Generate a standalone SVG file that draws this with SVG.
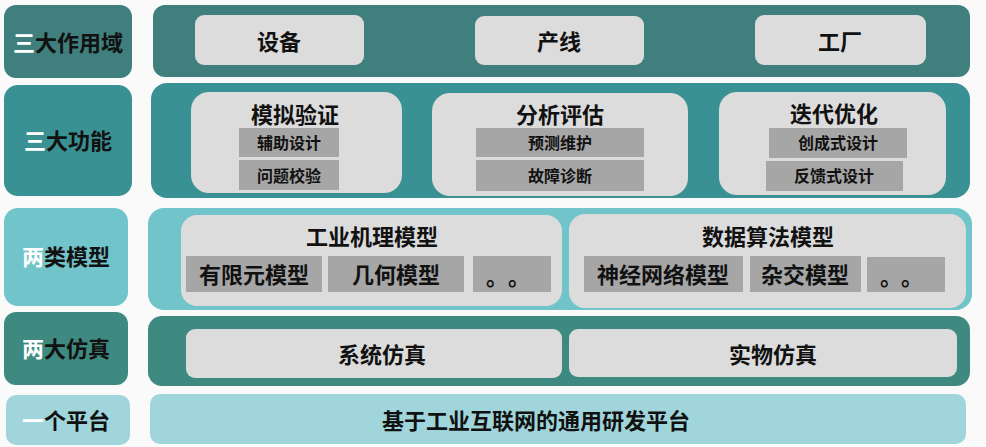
<svg xmlns="http://www.w3.org/2000/svg" width="986" height="447" viewBox="0 0 986 447">
<style>
text{font-family:"Noto Sans CJK SC","Noto Sans",sans-serif;font-weight:bold;text-anchor:middle;dominant-baseline:central;fill:#111}
.w{fill:#fff}
.lab{font-size:22px}
.big{font-size:22px}
.mid{font-size:22px}
.sm{font-size:16px}
.dots{font-size:22px;text-anchor:start}
.in{fill:#dcdcdc}
.sub{fill:#a6a6a6}
.r1{fill:#3f7f7d}
.r2{fill:#3a9193}
.r3{fill:#71c4c9}
.r4{fill:#3e8a81}
.r5{fill:#a0d6db}
</style>
<rect width="986" height="447" fill="#fafafa"/>
<g id="row1">
<rect class="r1" x="4" y="5" width="128" height="73" rx="12"/>
<text class="lab" x="68" y="41"><tspan class="w">三</tspan>大作用域</text>
<rect class="r1" x="153" y="5" width="817" height="72" rx="12"/>
<g id="n-shebei"><rect class="in" x="195" y="15" width="169" height="50" rx="9"/><text class="big" x="279" y="40">设备</text></g>
<g id="n-chanxian"><rect class="in" x="475" y="16" width="169" height="49" rx="9"/><text class="big" x="559" y="40">产线</text></g>
<g id="n-gongchang"><rect class="in" x="755" y="15" width="171" height="50" rx="9"/><text class="big" x="840" y="40">工厂</text></g>
</g>
<g id="row2">
<rect class="r2" x="4" y="85" width="128" height="111" rx="14"/>
<text class="lab" x="68" y="139"><tspan class="w">三</tspan>大功能</text>
<rect class="r2" x="151" y="83" width="819" height="115" rx="16"/>
<g id="n-moni"><rect class="in" x="191" y="92" width="211" height="101" rx="18"/><text class="mid" x="295" y="113">模拟验证</text>
<rect class="sub" x="239" y="128" width="100" height="29"/><text class="sm" x="289" y="142">辅助设计</text>
<rect class="sub" x="239" y="160" width="100" height="30"/><text class="sm" x="289" y="175">问题校验</text></g>
<g id="n-fenxi"><rect class="in" x="432" y="93" width="256" height="103" rx="18"/><text class="mid" x="560" y="113">分析评估</text>
<rect class="sub" x="476" y="128" width="168" height="29"/><text class="sm" x="560" y="142">预测维护</text>
<rect class="sub" x="476" y="160" width="168" height="31"/><text class="sm" x="560" y="175">故障诊断</text></g>
<g id="n-diedai"><rect class="in" x="719" y="92" width="227" height="103" rx="18"/><text class="mid" x="834" y="112">迭代优化</text>
<rect class="sub" x="769" y="128" width="138" height="30"/><text class="sm" x="838" y="142">创成式设计</text>
<rect class="sub" x="766" y="161" width="137" height="30"/><text class="sm" x="834" y="175">反馈式设计</text></g>
</g>
<g id="row3">
<rect class="r3" x="4" y="208" width="124" height="98" rx="14"/>
<text class="lab" x="66" y="255"><tspan class="w">两</tspan>类模型</text>
<rect class="r3" x="148" y="208" width="824" height="102" rx="16"/>
<g id="n-jili"><rect class="in" x="181" y="215" width="381" height="91" rx="16"/><text class="mid" x="372" y="235">工业机理模型</text>
<rect class="sub" x="186" y="256" width="136" height="36"/><text class="mid" x="254" y="273">有限元模型</text>
<rect class="sub" x="328" y="256" width="136" height="36"/><text class="mid" x="396" y="273">几何模型</text>
<rect class="sub" x="473" y="256" width="78" height="36"/><text class="dots" x="486" y="275">。<tspan x="508">。</tspan></text></g>
<g id="n-shuju"><rect class="in" x="569" y="214" width="397" height="94" rx="16"/><text class="mid" x="768" y="235">数据算法模型</text>
<rect class="sub" x="584" y="256" width="159" height="36"/><text class="mid" x="663" y="273">神经网络模型</text>
<rect class="sub" x="750" y="256" width="111" height="36"/><text class="mid" x="805" y="273">杂交模型</text>
<rect class="sub" x="867" y="257" width="78" height="35"/><text class="dots" x="880" y="275">。<tspan x="901">。</tspan></text></g>
</g>
<g id="row4">
<rect class="r4" x="4" y="312" width="124" height="73" rx="12"/>
<text class="lab" x="66" y="347"><tspan class="w">两</tspan>大仿真</text>
<rect class="r4" x="148" y="316" width="822" height="70" rx="14"/>
<g id="n-xitong"><rect class="in" x="186" y="329" width="376" height="49" rx="9"/><text class="mid" x="382" y="353">系统仿真</text></g>
<g id="n-shiwu"><rect class="in" x="569" y="329" width="388" height="48" rx="9"/><text class="mid" x="773" y="353">实物仿真</text></g>
</g>
<g id="row5">
<rect class="r5" x="6" y="395" width="124" height="50" rx="10"/>
<text class="lab" x="66" y="419"><tspan class="w">一</tspan>个平台</text>
<g id="n-pingtai"><rect class="r5" x="150" y="394" width="816" height="50" rx="10"/><text class="mid" x="536" y="419">基于工业互联网的通用研发平台</text></g>
</g>
<g id="connectors"/>
</svg>
